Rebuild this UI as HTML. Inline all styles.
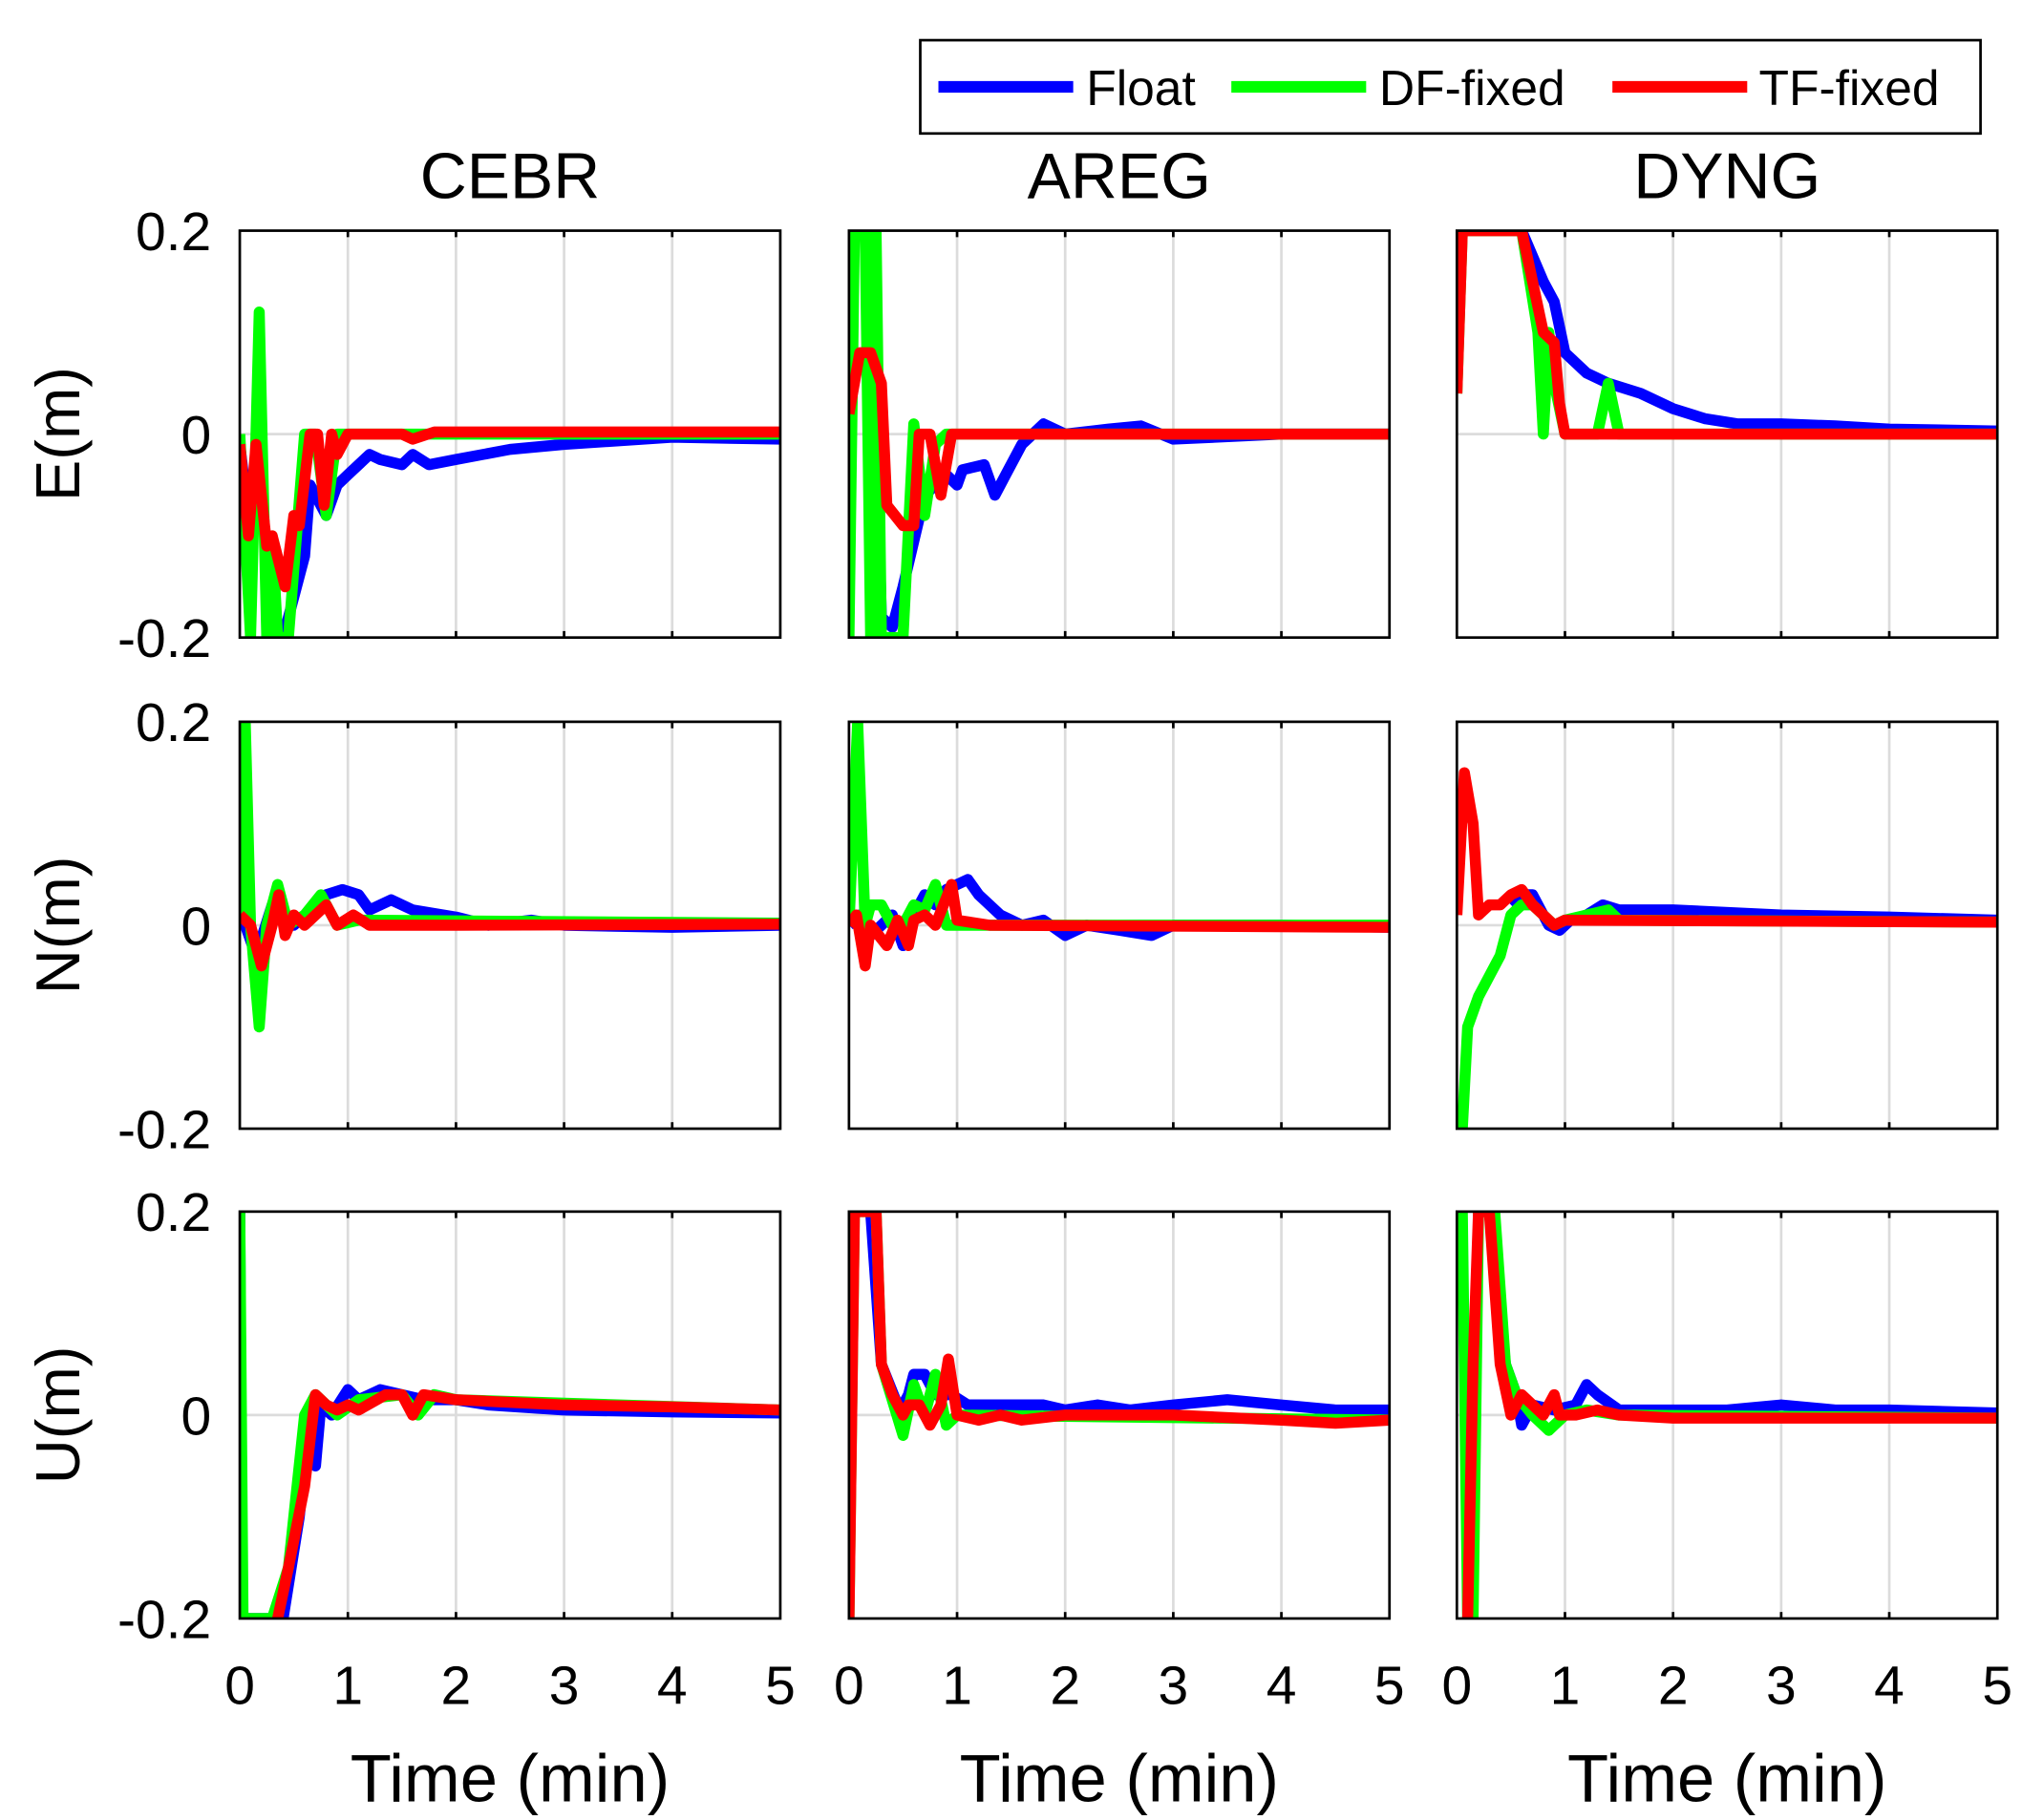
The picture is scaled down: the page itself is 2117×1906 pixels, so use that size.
<!DOCTYPE html>
<html><head><meta charset="utf-8"><style>html,body{margin:0;padding:0;background:#fff}svg{display:block}</style></head>
<body>
<svg id="s" width="2117" height="1906" viewBox="0 0 1560 1404.5" xmlns="http://www.w3.org/2000/svg" font-family="Liberation Sans, Arial, sans-serif">
<rect width="1560" height="1404.5" fill="#fff"/>
<g id="g"></g>
<rect x="710" y="31" width="818" height="72" fill="#fff" stroke="#000" stroke-width="2"/>
<line x1="724" y1="67" x2="828" y2="67" stroke="#0000ff" stroke-width="9"/>
<text x="838" y="81" font-size="38">Float</text>
<line x1="950" y1="67" x2="1054" y2="67" stroke="#00ff00" stroke-width="9"/>
<text x="1064" y="81" font-size="38">DF-fixed</text>
<line x1="1244" y1="67" x2="1348" y2="67" stroke="#ff0000" stroke-width="9"/>
<text x="1357" y="81" font-size="38">TF-fixed</text>
</svg>
<script>
var NS="http://www.w3.org/2000/svg",g=document.getElementById('g');
function el(t,a,txt){var e=document.createElementNS(NS,t);for(var k in a)e.setAttribute(k,a[k]);if(txt!=null)e.textContent=txt;g.appendChild(e);return e;}
var cols=[185,655,1124],W=417,rows=[178,557,935],H=314;
var names=["CEBR","AREG","DYNG"],yl=["E(m)","N(m)","U(m)"];
var D=[
[[[0,-0.01],[0.1,-0.1],[0.2,-0.05],[0.3,-0.2],[0.4,-0.2],[0.6,-0.12],[0.65,-0.05],[0.8,-0.08],[0.9,-0.05],[1.0,-0.04],[1.2,-0.02],[1.3,-0.025],[1.5,-0.03],[1.6,-0.02],[1.75,-0.03],[2,-0.025],[2.5,-0.015],[3,-0.01],[4,-0.003],[5,-0.005]],
 [[0,0],[0.1,-0.2],[0.18,0.12],[0.25,-0.2],[0.3,-0.1],[0.35,-0.2],[0.45,-0.2],[0.6,0],[0.7,0],[0.8,-0.08],[0.9,0],[1.1,0],[5,0]],
 [[0,-0.01],[0.08,-0.1],[0.15,-0.01],[0.25,-0.11],[0.3,-0.1],[0.42,-0.15],[0.5,-0.08],[0.55,-0.09],[0.65,0],[0.72,0],[0.78,-0.07],[0.85,0],[0.9,-0.02],[1.0,0],[1.5,0],[1.6,-0.005],[1.8,0.002],[5,0.002]]],
[[[0,0.2],[0.05,0],[0.15,-0.03],[0.3,0.02],[0.5,0],[0.8,0.03],[0.95,0.035],[1.1,0.03],[1.2,0.015],[1.4,0.025],[1.6,0.015],[2,0.008],[2.3,0],[2.7,0.005],[3,0],[4,-0.002],[5,0]],
 [[0,0.01],[0.05,0.2],[0.1,0],[0.18,-0.1],[0.25,0],[0.35,0.04],[0.45,0],[0.6,0.01],[0.75,0.03],[0.9,0],[1.1,0.005],[5,0.002]],
 [[0,0.01],[0.1,0],[0.2,-0.04],[0.3,0],[0.36,0.03],[0.42,-0.01],[0.5,0.01],[0.6,0],[0.8,0.02],[0.9,0],[1.05,0.01],[1.2,0],[2,0],[5,0.001]]],
[[[0,0.2],[0.02,-0.2],[0.4,-0.2],[0.55,-0.1],[0.65,0],[0.7,-0.05],[0.75,0.01],[0.85,0],[1,0.025],[1.1,0.015],[1.3,0.025],[1.5,0.02],[1.7,0.015],[2,0.015],[2.3,0.01],[3,0.005],[4,0.003],[5,0.002]],
 [[0,0.2],[0.03,-0.2],[0.3,-0.2],[0.45,-0.15],[0.6,0],[0.7,0.02],[0.9,0],[1.1,0.015],[1.5,0.02],[1.65,0],[1.8,0.02],[2,0.015],[5,0.005]],
 [[0.35,-0.2],[0.45,-0.15],[0.6,-0.07],[0.7,0.02],[0.8,0.01],[0.9,0.005],[1,0.01],[1.1,0.005],[1.35,0.02],[1.5,0.02],[1.6,0],[1.7,0.02],[2,0.015],[3,0.01],[4,0.008],[5,0.005]]]
];
var A=[
[[[0.2,0.2],[0.3,-0.18],[0.4,-0.19],[0.5,-0.15],[0.7,-0.06],[0.9,-0.04],[1.0,-0.05],[1.05,-0.035],[1.25,-0.03],[1.35,-0.06],[1.45,-0.04],[1.6,-0.01],[1.7,0],[1.8,0.01],[2,0],[2.4,0.005],[2.7,0.008],[3,-0.005],[4,0],[5,0]],
 [[0,-0.2],[0.05,0.2],[0.15,0.2],[0.2,-0.2],[0.25,0.2],[0.3,-0.2],[0.5,-0.2],[0.6,0.01],[0.7,-0.08],[0.8,-0.01],[0.9,0],[5,0]],
 [[0,0.02],[0.1,0.08],[0.2,0.08],[0.3,0.05],[0.35,-0.07],[0.5,-0.09],[0.6,-0.09],[0.65,0],[0.75,0],[0.85,-0.06],[0.95,0],[1.0,0],[5,0]]],
[[[0,0],[0.1,0.01],[0.2,-0.01],[0.4,0.01],[0.5,-0.02],[0.6,0.01],[0.7,0.03],[0.8,0.02],[0.9,0.035],[1.1,0.045],[1.2,0.03],[1.4,0.01],[1.6,0],[1.8,0.005],[2,-0.01],[2.2,0],[2.5,-0.005],[2.8,-0.01],[3,0],[4,0],[5,-0.002]],
 [[0,0],[0.08,0.2],[0.15,0],[0.2,0.02],[0.3,0.02],[0.4,0],[0.5,0],[0.6,0.02],[0.7,0.015],[0.8,0.04],[0.9,0],[5,0]],
 [[0,0],[0.07,0.01],[0.15,-0.04],[0.2,0],[0.35,-0.02],[0.45,0.005],[0.55,-0.02],[0.6,0.005],[0.7,0.01],[0.8,0],[0.95,0.04],[1.0,0.005],[1.3,0],[5,-0.002]]],
[[[0.2,0.2],[0.3,0.05],[0.45,0.01],[0.5,0.01],[0.55,0.02],[0.6,0.04],[0.7,0.04],[0.8,0.02],[0.95,0.02],[1.1,0.01],[1.5,0.01],[1.8,0.01],[2,0.005],[2.3,0.01],[2.6,0.005],[3,0.01],[3.5,0.015],[4,0.01],[4.5,0.005],[5,0.005]],
 [[0,-0.2],[0.05,0.2],[0.25,0.2],[0.3,0.05],[0.5,-0.02],[0.6,0.03],[0.7,0],[0.8,0.04],[0.9,-0.01],[1,0],[5,-0.005]],
 [[0,-0.2],[0.05,0.2],[0.25,0.2],[0.3,0.05],[0.4,0.02],[0.5,0],[0.55,0.01],[0.65,0.01],[0.75,-0.01],[0.85,0.01],[0.92,0.055],[1.0,0],[1.2,-0.005],[1.4,0],[1.6,-0.005],[2,0],[2.5,0],[3,0],[4,-0.005],[4.5,-0.008],[5,-0.005]]]
];
var Y=[
[[[0.6,0.2],[0.8,0.15],[0.9,0.13],[1.0,0.08],[1.2,0.06],[1.4,0.05],[1.7,0.04],[2,0.025],[2.3,0.015],[2.6,0.01],[3,0.01],[3.5,0.008],[4,0.005],[5,0.003]],
 [[0,0.04],[0.05,0.2],[0.6,0.2],[0.75,0.1],[0.8,0],[0.85,0.1],[0.9,0.05],[1.0,0],[1.3,0],[1.4,0.05],[1.5,0],[5,0]],
 [[0,0.04],[0.05,0.2],[0.6,0.2],[0.7,0.15],[0.8,0.1],[0.9,0.09],[0.95,0.03],[1.0,0],[5,0]]],
[[[0.5,0.02],[0.6,0.03],[0.7,0.03],[0.85,0],[0.95,-0.005],[1.05,0.005],[1.2,0.01],[1.35,0.02],[1.5,0.015],[2,0.015],[3,0.01],[4,0.008],[5,0.005]],
 [[0.05,-0.2],[0.1,-0.1],[0.2,-0.07],[0.3,-0.05],[0.4,-0.03],[0.5,0.01],[0.6,0.02],[0.7,0.02],[0.8,0.01],[0.9,0],[1,0.005],[1.2,0.01],[1.4,0.015],[1.5,0.005],[5,0.003]],
 [[0,0.01],[0.07,0.15],[0.15,0.1],[0.2,0.01],[0.3,0.02],[0.4,0.02],[0.5,0.03],[0.6,0.035],[0.7,0.02],[0.8,0.01],[0.9,0],[1.0,0.005],[5,0.003]]],
[[[0.3,0.2],[0.45,0.05],[0.55,0.02],[0.6,-0.01],[0.7,0.01],[0.9,0.005],[1.1,0.01],[1.2,0.03],[1.3,0.02],[1.5,0.005],[2,0.005],[2.5,0.005],[3,0.01],[3.5,0.005],[4,0.005],[5,0.002]],
 [[0.05,0.2],[0.1,-0.2],[0.15,-0.2],[0.2,0.2],[0.35,0.2],[0.45,0.05],[0.55,0.02],[0.7,0],[0.85,-0.015],[1.0,0],[1.2,0.005],[1.5,0],[5,-0.003]],
 [[0.1,-0.2],[0.15,0.05],[0.2,0.2],[0.3,0.2],[0.4,0.05],[0.5,0],[0.6,0.02],[0.7,0.01],[0.8,0],[0.9,0.02],[0.95,0],[1.1,0],[1.3,0.005],[1.5,0],[2,-0.003],[5,-0.003]]]
];
var ALL=[D,A,Y],clr=["#0000ff","#00ff00","#ff0000"];
for(var c=0;c<3;c++){
  var x0=cols[c];
  el('text',{x:x0+W/2,y:153,'font-size':50,'text-anchor':'middle'},names[c]);
  el('text',{x:x0+W/2,y:1390,'font-size':52,'text-anchor':'middle'},'Time (min)');
  for(var t=0;t<=5;t++)el('text',{x:x0+t*W/5,y:1315,'font-size':42,'text-anchor':'middle'},String(t));
  for(var r=0;r<3;r++){
    var y0=rows[r];
    var cid='c'+c+r;
    var cp=el('clipPath',{id:cid});var rr=document.createElementNS(NS,'rect');
    rr.setAttribute('x',x0);rr.setAttribute('y',y0);rr.setAttribute('width',W);rr.setAttribute('height',H);cp.appendChild(rr);
    for(var t=1;t<5;t++)el('line',{x1:x0+t*W/5,x2:x0+t*W/5,y1:y0,y2:y0+H,stroke:'#dcdcdc','stroke-width':2});
    el('line',{x1:x0,x2:x0+W,y1:y0+H/2,y2:y0+H/2,stroke:'#dcdcdc','stroke-width':2});
    var S=ALL[c][r];
    for(var s=0;s<3;s++){
      var d='';S[s].forEach(function(p,i){var px=x0+p[0]/5*W,py=y0+H/2-p[1]/0.4*H;d+=(i?'L':'M')+px.toFixed(1)+' '+py.toFixed(1);});
      el('path',{d:d,fill:'none',stroke:clr[s],'stroke-width':8.5,'stroke-linejoin':'round','clip-path':'url(#'+cid+')'});
    }
    for(var t=1;t<5;t++){el('line',{x1:x0+t*W/5,x2:x0+t*W/5,y1:y0+H,y2:y0+H-5,stroke:'#000','stroke-width':2});el('line',{x1:x0+t*W/5,x2:x0+t*W/5,y1:y0,y2:y0+5,stroke:'#000','stroke-width':2});}
    el('rect',{x:x0,y:y0,width:W,height:H,fill:'none',stroke:'#000','stroke-width':2});
    if(c==0){
      el('text',{x:163,y:y0+15,'font-size':42,'text-anchor':'end'},'0.2');
      el('text',{x:163,y:y0+H/2+15,'font-size':42,'text-anchor':'end'},'0');
      el('text',{x:163,y:y0+H+15,'font-size':42,'text-anchor':'end'},'-0.2');
      el('text',{x:0,y:0,'font-size':48,'text-anchor':'middle',transform:'translate(61,'+(y0+H/2)+') rotate(-90)'},yl[r]);
    }
  }
}
</script>
</body></html>
